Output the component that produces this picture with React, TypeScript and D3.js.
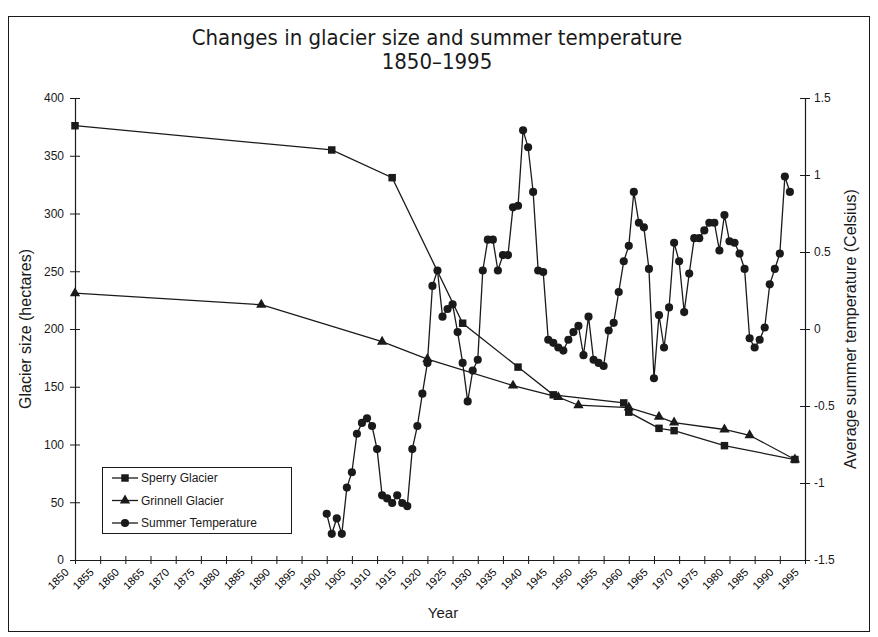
import React, { useEffect, useRef } from 'react';
import * as d3 from 'd3';

const sperryYears = [1850, 1901, 1913, 1927, 1938, 1945, 1959, 1960, 1966, 1969, 1979, 1993];
const sperrySize = [376, 355, 331, 205, 167, 143, 136, 128, 114, 112, 99, 87];

const grinnellYears = [1850, 1887, 1911, 1920, 1937, 1946, 1950, 1960, 1966, 1969, 1979, 1984, 1993];
const grinnellSize = [231, 221, 189, 174, 151, 141, 134, 132, 124, 119, 113, 108, 87];

const tempStartYear = 1900;
const tempValues = [
  -1.2, -1.33, -1.23, -1.33, -1.03, -0.93, -0.68, -0.61, -0.58, -0.63,
  -0.78, -1.08, -1.1, -1.13, -1.08, -1.13, -1.15, -0.78, -0.63, -0.42,
  -0.22, 0.28, 0.38, 0.08, 0.13, 0.16, -0.02, -0.22, -0.47, -0.27,
  -0.2, 0.38, 0.58, 0.58, 0.38, 0.48, 0.48, 0.79, 0.8, 1.29,
  1.18, 0.89, 0.38, 0.37, -0.07, -0.09, -0.12, -0.14, -0.07, -0.02,
  0.02, -0.17, 0.08, -0.2, -0.22, -0.24, -0.01, 0.04, 0.24, 0.44,
  0.54, 0.89, 0.69, 0.66, 0.39, -0.32, 0.09, -0.12, 0.14, 0.56,
  0.44, 0.11, 0.36, 0.59, 0.59, 0.64, 0.69, 0.69, 0.51, 0.74,
  0.57, 0.56, 0.49, 0.39, -0.06, -0.12, -0.07, 0.01, 0.29, 0.39,
  0.49, 0.99, 0.89,
];

const xTicks = d3.range(1850, 1996, 5);
const leftTicks = [0, 50, 100, 150, 200, 250, 300, 350, 400];
const rightTicks = [-1.5, -1, -0.5, 0, 0.5, 1, 1.5];

const INK = '#1a1a1a';
const SANS = '"Liberation Sans", Arial, sans-serif';
const NARROW = '"Liberation Sans Narrow", "Arial Narrow", "DejaVu Sans Condensed", sans-serif';

const App = () => {
  const ref = useRef<SVGSVGElement | null>(null);

  useEffect(() => {
    const svg = d3.select(ref.current);
    svg.selectAll('*').remove();

    const W = 878;
    const H = 637;
    const plot = { left: 75, right: 805, top: 98, bottom: 560 };

    const x = d3.scaleLinear().domain([1850, 1995]).range([plot.left, plot.right]);
    const yL = d3.scaleLinear().domain([0, 400]).range([plot.bottom, plot.top]);
    const yR = d3.scaleLinear().domain([-1.5, 1.5]).range([plot.bottom, plot.top]);

    svg.append('rect').attr('width', W).attr('height', H).attr('fill', '#fff');
    svg
      .append('rect')
      .attr('x', 8.5)
      .attr('y', 16.5)
      .attr('width', 861)
      .attr('height', 615)
      .attr('fill', 'none')
      .attr('stroke', INK)
      .attr('stroke-width', 1);

    // title
    const title = svg
      .append('text')
      .attr('text-anchor', 'middle')
      .attr('font-family', NARROW)
      .attr('font-size', 22)
      .attr('fill', INK);
    title.append('tspan').attr('x', 437).attr('y', 45).text('Changes in glacier size and summer temperature');
    title.append('tspan').attr('x', 437).attr('y', 69).text('1850–1995');

    // x axis
    const gx = svg
      .append('g')
      .attr('transform', `translate(0, ${plot.bottom})`)
      .call(d3.axisBottom(x).tickValues(xTicks).tickSize(0).tickFormat(d3.format('d')));
    gx.select('.domain').attr('stroke', INK).attr('stroke-width', 1.2);
    gx.selectAll('.tick')
      .append('line')
      .attr('y1', -4)
      .attr('y2', 4)
      .attr('stroke', INK);
    gx.selectAll('.tick text')
      .attr('font-family', SANS)
      .attr('font-size', 11)
      .attr('fill', '#000')
      .attr('text-anchor', 'end')
      .attr('dy', null)
      .attr('y', 0)
      .attr('transform', 'translate(-6, 13) rotate(-45)');

    // left axis
    const gl = svg
      .append('g')
      .attr('transform', `translate(${plot.left}, 0)`)
      .call(d3.axisLeft(yL).tickValues(leftTicks).tickSize(0).tickPadding(11));
    gl.select('.domain').attr('stroke', INK).attr('stroke-width', 1.2);
    gl.selectAll('.tick')
      .append('line')
      .attr('x1', -5)
      .attr('x2', 5)
      .attr('stroke', INK);
    gl.selectAll('.tick text').attr('font-family', SANS).attr('font-size', 12).attr('fill', INK);

    // right axis
    const gr = svg
      .append('g')
      .attr('transform', `translate(${plot.right}, 0)`)
      .call(d3.axisRight(yR).tickValues(rightTicks).tickSize(0).tickPadding(9).tickFormat((d) => `${d}`));
    gr.select('.domain').attr('stroke', INK).attr('stroke-width', 1.2);
    gr.selectAll('.tick')
      .append('line')
      .attr('x1', -5)
      .attr('x2', 5)
      .attr('stroke', INK);
    gr.selectAll('.tick text').attr('font-family', SANS).attr('font-size', 12).attr('fill', INK);

    // axis titles
    svg
      .append('text')
      .attr('transform', `translate(31, ${(plot.top + plot.bottom) / 2}) rotate(-90)`)
      .attr('text-anchor', 'middle')
      .attr('font-family', SANS)
      .attr('font-size', 16)
      .attr('fill', INK)
      .text('Glacier size (hectares)');
    svg
      .append('text')
      .attr('transform', `translate(856, ${(plot.top + plot.bottom) / 2}) rotate(-90)`)
      .attr('text-anchor', 'middle')
      .attr('font-family', SANS)
      .attr('font-size', 16)
      .attr('fill', INK)
      .text('Average summer temperature (Celsius)');
    svg
      .append('text')
      .attr('x', 443)
      .attr('y', 618)
      .attr('text-anchor', 'middle')
      .attr('font-family', SANS)
      .attr('font-size', 15)
      .attr('fill', INK)
      .text('Year');

    const sperry = sperryYears.map((yr, i) => [x(yr), yL(sperrySize[i])]);
    const grinnell = grinnellYears.map((yr, i) => [x(yr), yL(grinnellSize[i])]);
    const temp = tempValues.map((v, i) => [x(tempStartYear + i), yR(v)]);

    const line = d3.line();
    const drawLine = (pts) =>
      svg
        .append('path')
        .attr('d', line(pts))
        .attr('fill', 'none')
        .attr('stroke', INK)
        .attr('stroke-width', 1.3);

    const square = d3.symbol().type(d3.symbolSquare).size(56)();
    const triangle = d3.symbol().type(d3.symbolTriangle).size(46)();
    const circle = d3.symbol().type(d3.symbolCircle).size(52)();

    const drawMarks = (pts, shape) =>
      svg
        .append('g')
        .selectAll('path')
        .data(pts)
        .enter()
        .append('path')
        .attr('d', shape)
        .attr('transform', (d) => `translate(${d[0]}, ${d[1]})`)
        .attr('fill', INK);

    drawLine(temp);
    drawLine(grinnell);
    drawLine(sperry);
    drawMarks(temp, circle);
    drawMarks(grinnell, triangle);
    drawMarks(sperry, square);

    // legend
    const lg = svg.append('g');
    lg.append('rect')
      .attr('x', 102.5)
      .attr('y', 467.5)
      .attr('width', 189)
      .attr('height', 66)
      .attr('fill', '#fff')
      .attr('stroke', INK);
    const items = [
      { label: 'Sperry Glacier', shape: square },
      { label: 'Grinnell Glacier', shape: triangle },
      { label: 'Summer Temperature', shape: circle },
    ];
    items.forEach((it, i) => {
      const cy = 478 + i * 22.5;
      lg.append('line')
        .attr('x1', 112)
        .attr('x2', 138)
        .attr('y1', cy)
        .attr('y2', cy)
        .attr('stroke', INK)
        .attr('stroke-width', 1.3);
      lg.append('path').attr('d', it.shape).attr('transform', `translate(125, ${cy})`).attr('fill', INK);
      lg.append('text')
        .attr('x', 141)
        .attr('y', cy + 4)
        .attr('font-family', SANS)
        .attr('font-size', 12)
        .attr('fill', INK)
        .text(it.label);
    });
  }, []);

  return (
    <svg
      ref={ref}
      width={878}
      height={637}
      style={{ position: 'absolute', left: 0, top: 0 }}
    />
  );
};

export default App;
